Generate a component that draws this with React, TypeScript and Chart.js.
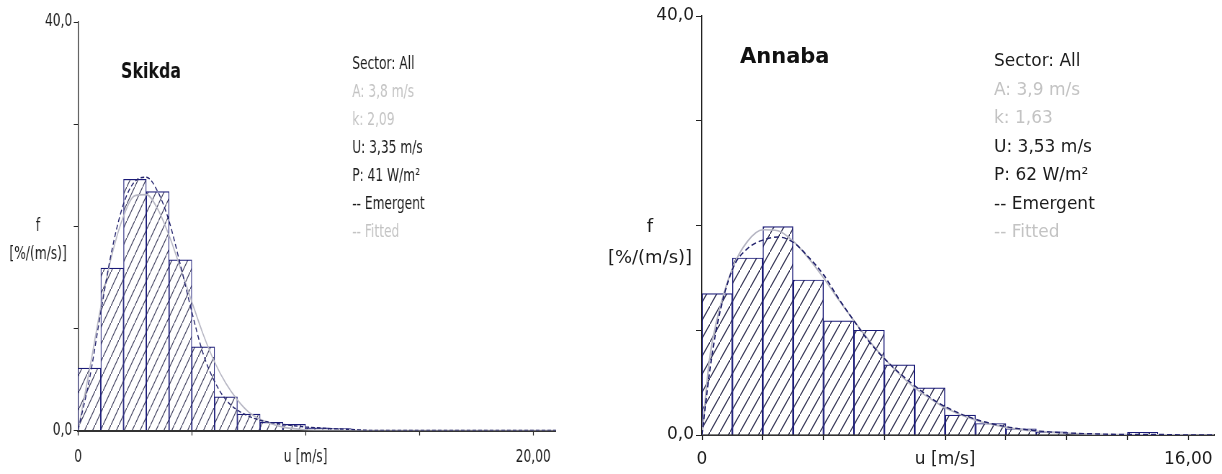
import React, { useEffect, useRef } from "react";
import { Chart, registerables } from "chart.js";

Chart.register(...registerables);

// ---------------- data ----------------
// Skikda (left panel)
const skikdaBinCenters = [0.5, 1.5, 2.5, 3.5, 4.5, 5.5, 6.5, 7.5, 8.5, 9.5, 10.5, 11.5, 12.5];
const skikdaFreq = [6.1, 15.9, 24.6, 23.4, 16.7, 8.2, 3.3, 1.6, 0.8, 0.6, 0.25, 0.2, 0];
const skikdaEmergentU = [0, 0.5, 1, 1.5, 2, 2.5, 3, 3.5, 4, 4.5, 5, 5.5, 6, 6.5, 7, 7.5, 8, 9, 10, 11, 12, 13, 21];
const skikdaEmergentF = [0, 5.0, 11.6, 17.8, 22.2, 24.4, 24.8, 23.4, 20.5, 16.2, 11.6, 7.5, 4.8, 3.0, 2.0, 1.4, 1.0, 0.6, 0.35, 0.2, 0.1, 0, 0];
const skikdaFittedU = [0, 0.5, 1, 1.5, 2, 2.5, 3, 3.5, 4, 4.5, 5, 5.5, 6, 6.5, 7, 7.5, 8, 9, 10, 11, 12, 21];
const skikdaFittedF = [0, 5.9, 12.1, 17.3, 21.0, 23.0, 23.1, 21.7, 19.1, 15.9, 12.6, 9.4, 6.7, 4.6, 3.0, 1.8, 1.1, 0.33, 0.08, 0.01, 0, 0];
const skikdaXTicks = [0, 5, 10, 15, 20];
const skikdaXLabels = ["0", "", "u [m/s]", "", "20,00"];
const skikdaInfo = ["Sector: All", "A: 3,8 m/s", "k: 2,09", "U: 3,35 m/s", "P: 41 W/m²", "-- Emergent", "-- Fitted"];

// Annaba (right panel)
const annabaBinCenters = [0.5, 1.5, 2.5, 3.5, 4.5, 5.5, 6.5, 7.5, 8.5, 9.5, 10.5, 11.5, 12.5, 13.5, 14.5, 15.5];
const annabaFreq = [13.5, 16.9, 19.9, 14.8, 10.9, 10.0, 6.7, 4.5, 1.9, 1.1, 0.6, 0.3, 0.05, 0.05, 0.25, 0];
const annabaEmergentU = [0, 0.25, 0.5, 1, 1.5, 2, 2.5, 3, 3.5, 4, 4.5, 5, 5.5, 6, 6.5, 7, 7.5, 8, 9, 10, 11, 12, 13, 14, 15, 16, 16.85];
const annabaEmergentF = [0, 6.0, 10.5, 15.8, 17.8, 18.6, 18.9, 18.4, 17.0, 15.3, 13.0, 10.9, 8.9, 7.3, 5.9, 4.7, 3.6, 2.7, 1.5, 0.8, 0.4, 0.2, 0.1, 0.05, 0.05, 0, 0];
const annabaFittedU = [0, 0.25, 0.5, 1, 1.5, 2, 2.5, 3, 3.5, 4, 4.5, 5, 5.5, 6, 6.5, 7, 7.5, 8, 9, 10, 11, 12, 13, 14, 16, 16.85];
const annabaFittedF = [0, 7.3, 11.1, 15.9, 18.5, 19.6, 19.5, 18.5, 16.9, 15.0, 12.9, 10.9, 9.0, 7.3, 5.8, 4.5, 3.5, 2.6, 1.4, 0.73, 0.36, 0.17, 0.07, 0.03, 0.005, 0];
const annabaXTicks = [0, 2, 4, 6, 8, 10, 12, 14, 16];
const annabaXLabels = ["0", "", "", "", "u [m/s]", "", "", "", "16,00"];
const annabaInfo = ["Sector: All", "A: 3,9 m/s", "k: 1,63", "U: 3,53 m/s", "P: 62 W/m²", "-- Emergent", "-- Fitted"];

// shared
const yTicks = [0, 10, 20, 30, 40];
const yLabels = ["0,0", "", "", "", "40,0"];
const infoTone = ["dark", "light", "light", "dark", "dark", "dark", "light"];
const yTitle = ["f", "[%/(m/s)]"];

// ---------------- helpers ----------------
const DARK = "#1c1c1c";
const LIGHT = "#c3c3c3";
const NAVY = "#1a1a78";
const FONT = '"DejaVu Sans", Verdana, sans-serif';

function makeHatch(w: number, h: number, color: string) {
  const c = document.createElement("canvas");
  c.width = w;
  c.height = h;
  const g = c.getContext("2d")!;
  g.fillStyle = "#ffffff";
  g.fillRect(0, 0, w, h);
  g.strokeStyle = color;
  g.lineWidth = 1.1;
  g.beginPath();
  const s = h / w;
  g.moveTo(-1, h + s);
  g.lineTo(w + 1, -s);
  g.stroke();
  return g.createPattern(c, "repeat")!;
}

type Panel = {
  cssW: number;
  squish: number;
  binCenters: number[];
  freq: number[];
  emU: number[];
  emF: number[];
  fiU: number[];
  fiF: number[];
  xTicks: number[];
  xLabels: string[];
  xMax: number;
  info: string[];
  station: string;
  tickSize: number;
  xPad: number;
  layout: { left: number; right: number; top: number; bottom: number };
  hatch: [number, number];
  stationPos: [number, number];
  stationSize: number;
  titlePos: [number, number, number];
  titleSize: number;
  infoPos: [number, number, number];
  infoSize: number;
};

function buildChart(canvas: HTMLCanvasElement, p: Panel) {
  const ctx = canvas.getContext("2d")!;
  const pattern = makeHatch(p.hatch[0], p.hatch[1], "#383858");
  const textPlugin = {
    id: "panelText",
    afterDraw(chart: any) {
      const c = chart.ctx as CanvasRenderingContext2D;
      c.save();
      c.textBaseline = "middle";
      c.fillStyle = "#111";
      c.textAlign = "left";
      c.font = `bold ${p.stationSize}px ${FONT}`;
      c.fillText(p.station, p.stationPos[0], p.stationPos[1]);
      c.textAlign = "center";
      c.font = `${p.titleSize}px ${FONT}`;
      c.fillStyle = DARK;
      c.fillText(yTitle[0], p.titlePos[0], p.titlePos[1]);
      c.fillText(yTitle[1], p.titlePos[0], p.titlePos[2]);
      c.textAlign = "left";
      c.font = `${p.infoSize}px ${FONT}`;
      p.info.forEach((t, i) => {
        c.fillStyle = infoTone[i] === "dark" ? DARK : LIGHT;
        c.fillText(t, p.infoPos[0], p.infoPos[1] + i * p.infoPos[2]);
      });
      c.restore();
    },
  };

  return new Chart(ctx, {
    type: "bar",
    data: {
      datasets: [
        {
          type: "line",
          label: "Emergent",
          data: p.emU.map((u, i) => ({ x: u, y: p.emF[i] })),
          borderColor: "#24246e",
          borderWidth: 1.4,
          borderDash: [5, 3],
          pointRadius: 0,
          cubicInterpolationMode: "monotone",
          fill: false,
          order: 1,
        } as any,
        {
          type: "line",
          label: "Fitted",
          data: p.fiU.map((u, i) => ({ x: u, y: p.fiF[i] })),
          borderColor: "#b7b7c4",
          borderWidth: 1.6,
          pointRadius: 0,
          cubicInterpolationMode: "monotone",
          fill: false,
          order: 2,
        } as any,
        {
          type: "bar",
          label: "Histogram",
          data: p.binCenters.map((u, i) => ({ x: u, y: p.freq[i] })),
          backgroundColor: pattern as any,
          borderColor: NAVY,
          borderWidth: 1.2,
          borderSkipped: "bottom",
          barPercentage: 1,
          categoryPercentage: 1,
          order: 3,
        } as any,
      ],
    },
    options: {
      animation: false,
      responsive: false,
      maintainAspectRatio: false,
      devicePixelRatio: 1,
      events: [],
      layout: { padding: { left: 0, right: p.layout.right, top: p.layout.top, bottom: 0 } },
      plugins: { legend: { display: false }, tooltip: { enabled: false } },
      scales: {
        x: {
          type: "linear",
          min: 0,
          max: p.xMax,
          offset: false,
          afterBuildTicks: (axis: any) => {
            axis.ticks = p.xTicks.map((v) => ({ value: v }));
          },
          afterFit: (axis: any) => {
            axis.height = p.layout.bottom;
          },
          ticks: {
            autoSkip: false,
            maxRotation: 0,
            padding: p.xPad,
            color: DARK,
            font: { family: FONT, size: p.tickSize },
            callback: (_v: any, i: number) => p.xLabels[i],
          },
          grid: { display: true, offset: false, drawOnChartArea: false, drawTicks: true, tickLength: 5, tickColor: "#222", tickWidth: 1.2 },
          border: { display: true, color: "#333", width: 2 },
        },
        y: {
          type: "linear",
          min: 0,
          max: 40,
          afterBuildTicks: (axis: any) => {
            axis.ticks = yTicks.map((v) => ({ value: v }));
          },
          afterFit: (axis: any) => {
            axis.width = p.layout.left;
          },
          ticks: {
            autoSkip: false,
            padding: 2,
            color: DARK,
            font: { family: FONT, size: p.tickSize },
            callback: (_v: any, i: number) => yLabels[i],
          },
          grid: { display: true, drawOnChartArea: false, drawTicks: true, tickLength: 6, tickColor: "#222", tickWidth: 1 },
          border: { display: true, color: "#222", width: 1.3 },
        },
      },
    },
    plugins: [textPlugin],
  });
}

// left panel is drawn wide and compressed horizontally (like the reference)
const SQ = 0.72;
const leftPanel: Panel = {
  cssW: 600,
  squish: SQ,
  binCenters: skikdaBinCenters,
  freq: skikdaFreq,
  emU: skikdaEmergentU,
  emF: skikdaEmergentF,
  fiU: skikdaFittedU,
  fiF: skikdaFittedF,
  xTicks: skikdaXTicks,
  xLabels: skikdaXLabels,
  xMax: 21,
  info: skikdaInfo,
  station: "Skikda",
  tickSize: 17,
  xPad: 12,
  layout: { left: 78 / SQ, right: 44 / SQ, top: 22, bottom: 43.5 },
  hatch: [11, 17],
  stationPos: [121 / SQ, 72],
  stationSize: 22,
  titlePos: [38 / SQ, 227, 255],
  titleSize: 17,
  infoPos: [352 / SQ, 65, 28],
  infoSize: 17,
};

const rightPanel: Panel = {
  cssW: 622,
  squish: 1,
  binCenters: annabaBinCenters,
  freq: annabaFreq,
  emU: annabaEmergentU,
  emF: annabaEmergentF,
  fiU: annabaFittedU,
  fiF: annabaFittedF,
  xTicks: annabaXTicks,
  xLabels: annabaXLabels,
  xMax: 16.85,
  info: annabaInfo,
  station: "Annaba",
  tickSize: 17,
  xPad: 9,
  layout: { left: 102, right: 7, top: 16, bottom: 39 },
  hatch: [10, 18],
  stationPos: [140, 58],
  stationSize: 21,
  titlePos: [50, 227, 258],
  titleSize: 18,
  infoPos: [394, 62, 28.5],
  infoSize: 17,
};

function PanelChart({ panel, left }: { panel: Panel; left: number }) {
  const ref = useRef<HTMLCanvasElement | null>(null);
  const logicalW = Math.round(panel.cssW / panel.squish);
  useEffect(() => {
    if (!ref.current) return;
    const chart = buildChart(ref.current, panel);
    return () => chart.destroy();
  }, [panel]);
  return (
    <canvas
      ref={ref}
      width={logicalW}
      height={474}
      style={{ position: "absolute", left, top: 0, width: panel.cssW, height: 474 }}
    />
  );
}

export default function App() {
  return (
    <div style={{ position: "absolute", left: 0, top: 0, width: 1222, height: 474, background: "#fff" }}>
      <PanelChart panel={leftPanel} left={0} />
      <PanelChart panel={rightPanel} left={600} />
    </div>
  );
}
